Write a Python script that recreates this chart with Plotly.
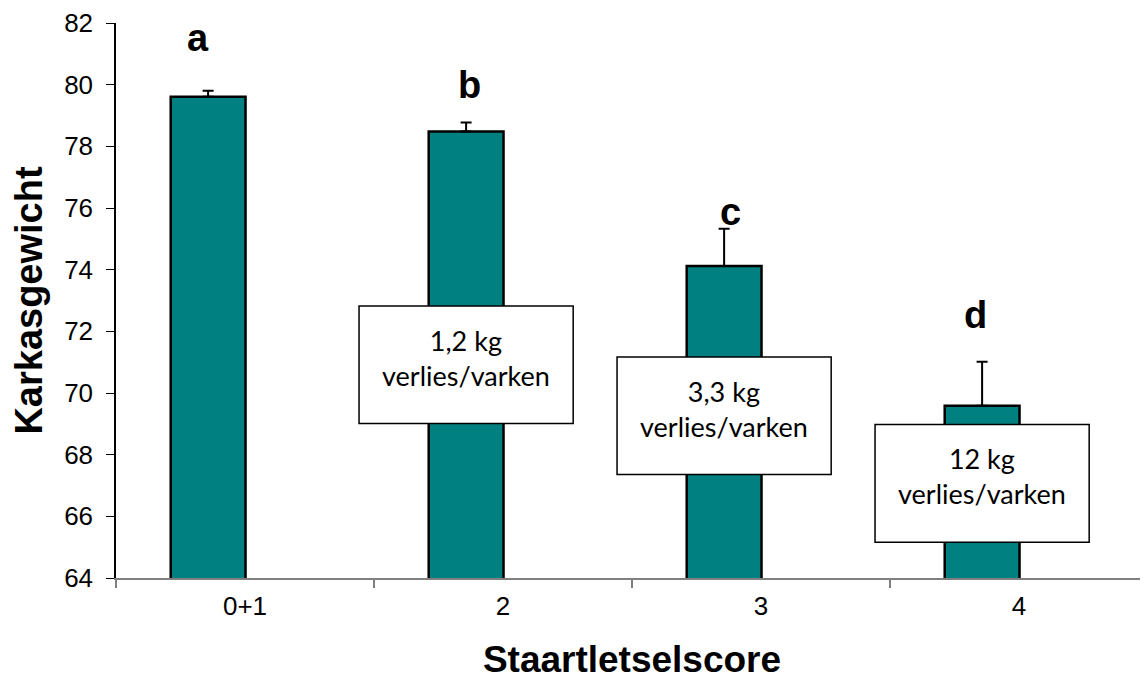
import plotly.graph_objects as go

# ---- data ----
categories = ["0+1", "2", "3", "4"]
carcass_weight = [79.61, 78.48, 74.12, 69.59]
error_plus = [0.19, 0.29, 1.21, 1.42]
sig_letters = ["a", "b", "c", "d"]
loss_labels = [None, "1,2 kg<br>verlies/varken", "3,3 kg<br>verlies/varken", "12 kg<br>verlies/varken"]

# ---- layout helpers (positions, not data) ----
bar_offset = -0.143
bar_width = 0.29
cat_pos = list(range(len(categories)))
bar_x = [p + bar_offset for p in cat_pos]
letter_x = [-0.182, 0.872, 1.88, 2.83]
letter_y = [81.5, 80.0, 75.88, 72.52]
box_y = [None, (69.01, 72.82), (67.36, 71.17), (65.16, 68.98)]
box_half_w = 0.415

fig = go.Figure()
fig.add_trace(go.Bar(
    x=bar_x, y=carcass_weight, width=bar_width,
    marker=dict(color="#008080", line=dict(color="black", width=2.5)),
    error_y=dict(type="data", symmetric=False, array=error_plus,
                 arrayminus=[0] * len(error_plus),
                 color="black", thickness=2, width=5.5),
    showlegend=False, hoverinfo="skip",
))

annotations = []
shapes = []
for i, letter in enumerate(sig_letters):
    annotations.append(dict(
        x=letter_x[i], y=letter_y[i], xref="x", yref="y", text=letter,
        showarrow=False, xanchor="center", yanchor="middle",
        font=dict(family="Arial, Liberation Sans", size=38, color="black", weight="bold"),
    ))
for i, lab in enumerate(loss_labels):
    if lab is None:
        continue
    y0, y1 = box_y[i]
    x0, x1 = bar_x[i] - box_half_w, bar_x[i] + box_half_w
    shapes.append(dict(type="rect", xref="x", yref="y", x0=x0, x1=x1, y0=y0, y1=y1,
                       fillcolor="white", line=dict(color="black", width=1.5), layer="above"))
    annotations.append(dict(
        x=bar_x[i], y=y1 - (y1 - y0) * 0.44, xref="x", yref="y", text=lab,
        showarrow=False, xanchor="center", yanchor="middle",
        font=dict(family="Lato, Open Sans", size=27, color="black"),
    ))

fig.update_layout(
    width=1140, height=672,
    margin=dict(l=108, r=0, t=13, b=102),
    plot_bgcolor="white", paper_bgcolor="white",
    font=dict(family="Arial, Liberation Sans", size=26, color="black"),
    shapes=shapes, annotations=annotations,
    xaxis=dict(
        range=[-0.5, 3.5], tickvals=cat_pos, ticktext=categories,
        ticks="", showgrid=False, zeroline=False,
        showline=True, linecolor="#808080", linewidth=1.5,
        tickfont=dict(size=26), ticklabelstandoff=4,
        minor=dict(tick0=0.5, dtick=1, ticks="outside", ticklen=8,
                   tickcolor="#808080", tickwidth=1.5, showgrid=False),
        title=dict(text="<b>Staartletselscore</b>", font=dict(size=37), standoff=26),
    ),
    yaxis=dict(
        range=[64, 82], dtick=2, ticks="outside", ticklen=8,
        tickcolor="black", tickwidth=1,
        showgrid=False, zeroline=False,
        showline=True, linecolor="black", linewidth=1.5,
        tickfont=dict(size=26), ticklabelstandoff=8,
        ticklabeloverflow="allow",
        title=dict(text="<b>Karkasgewicht</b>", font=dict(size=38), standoff=14),
    ),
)

fig.write_html("out.html")
